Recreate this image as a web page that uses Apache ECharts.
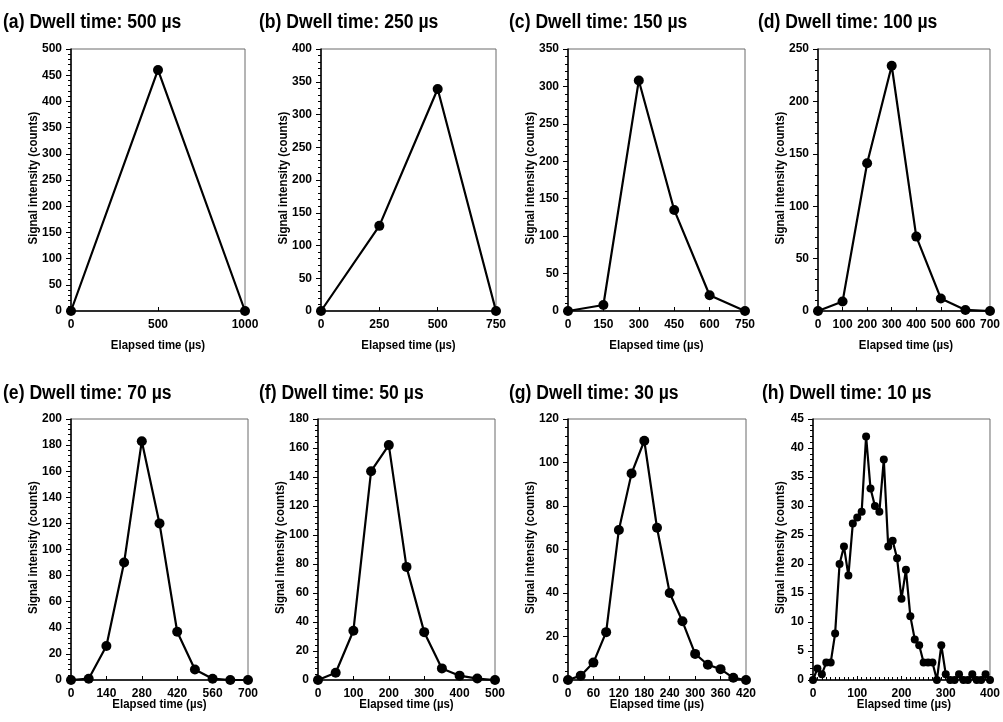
<!DOCTYPE html>
<html>
<head>
<meta charset="utf-8">
<script src="https://cdn.jsdelivr.net/npm/echarts@6/dist/echarts.min.js"></script>
<style>
  html, body { margin: 0; padding: 0; background: #fff; }
  #chart { width: 1003px; height: 722px; }
</style>
</head>
<body>
<div id="chart"></div>
<script>
// Signal intensity transients recorded at eight different dwell times
const panelTitles = [
  '(a) Dwell time: 500 µs',
  '(b) Dwell time: 250 µs',
  '(c) Dwell time: 150 µs',
  '(d) Dwell time: 100 µs',
  '(e) Dwell time: 70 µs',
  '(f) Dwell time: 50 µs',
  '(g) Dwell time: 30 µs',
  '(h) Dwell time: 10 µs'
];

const timeA = [0, 500, 1000];
const countsA = [0, 460, 0];

const timeB = [0, 250, 500, 750];
const countsB = [0, 130, 339, 0];

const timeC = [0, 150, 300, 450, 600, 750];
const countsC = [0, 8, 308, 135, 21, 0];

const timeD = [0, 100, 200, 300, 400, 500, 600, 700];
const countsD = [0, 9, 141, 234, 71, 12, 1, 0];

const timeE = [0, 70, 140, 210, 280, 350, 420, 490, 560, 630, 700];
const countsE = [0, 1, 26, 90, 183, 120, 37, 8, 1, 0, 0];

const timeF = [0, 50, 100, 150, 200, 250, 300, 350, 400, 450, 500];
const countsF = [0, 5, 34, 144, 162, 78, 33, 8, 3, 1, 0];

const timeG = [0, 30, 60, 90, 120, 150, 180, 210, 240, 270, 300, 330, 360, 390, 420];
const countsG = [0, 2, 8, 22, 69, 95, 110, 70, 40, 27, 12, 7, 5, 1, 0];

const timeH = [0, 10, 20, 30, 40, 50, 60, 70, 80, 90, 100, 110, 120, 130, 140, 150, 160,
  170, 180, 190, 200, 210, 220, 230, 240, 250, 260, 270, 280, 290, 300, 310, 320, 330,
  340, 350, 360, 370, 380, 390, 400];
const countsH = [0, 2, 1, 3, 3, 8, 20, 23, 18, 27, 28, 29, 42, 33, 30, 29, 38,
  23, 24, 21, 14, 19, 11, 7, 6, 3, 3, 3, 0, 6, 1, 0, 0, 1,
  0, 0, 1, 0, 0, 1, 0];

// axis ranges per panel
const xMaxes = [1000, 750, 750, 700, 700, 500, 420, 400];
const xSteps = [500, 250, 150, 100, 140, 100, 60, 100];
const yMaxes = [500, 400, 350, 250, 200, 180, 120, 45];
const ySteps = [50, 50, 50, 50, 20, 20, 20, 5];

const xLabel = 'Elapsed time (µs)';
const yLabel = 'Signal intensity (counts)';

const times = [timeA, timeB, timeC, timeD, timeE, timeF, timeG, timeH];
const counts = [countsA, countsB, countsC, countsD, countsE, countsF, countsG, countsH];

// layout of the 2 x 4 panel grid
const gridBoxes = [
  { left: 71, top: 49, width: 174, height: 262 },
  { left: 321, top: 49, width: 175, height: 262 },
  { left: 568, top: 49, width: 177, height: 262 },
  { left: 818, top: 49, width: 176, height: 262 },
  { left: 71, top: 419, width: 177, height: 261 },
  { left: 318, top: 419, width: 177, height: 261 },
  { left: 568, top: 419, width: 178, height: 261 },
  { left: 813, top: 419, width: 182, height: 261 }
];
const titleX = [3, 259, 509, 758, 3, 259, 509, 762];
const titleY = [22, 22, 22, 22, 393, 393, 393, 393];

const FONT = "'Liberation Sans', Arial, sans-serif";
// condensed look for headings and axis titles
const NARROW = 0.88;

const chart = echarts.init(document.getElementById('chart'), null, { renderer: 'canvas' });

const option = {
  animation: false,
  backgroundColor: '#ffffff',
  grid: [],
  xAxis: [],
  yAxis: [],
  series: [],
  graphic: { elements: [] }
};

function textEl(str, x, y, size, align, rotation) {
  return {
    type: 'text',
    x: x,
    y: y,
    rotation: rotation || 0,
    scaleX: NARROW,
    scaleY: 1,
    silent: true,
    z: 10,
    style: {
      text: str,
      x: 0,
      y: 0,
      fontFamily: FONT,
      fontSize: size,
      fontWeight: 'bold',
      fill: '#000',
      align: align,
      verticalAlign: 'middle',
      textAlign: align,
      textVerticalAlign: 'middle'
    }
  };
}

for (let i = 0; i < 8; i++) {
  const topRow = i < 4;
  const g = gridBoxes[i];

  option.graphic.elements.push(textEl(panelTitles[i], titleX[i], titleY[i], 20, 'left'));
  option.graphic.elements.push(textEl(xLabel, g.left + g.width / 2, topRow ? 345 : 704, 13, 'center'));
  option.graphic.elements.push(textEl(yLabel, g.left - (i === 7 ? 32.5 : 37.5),
    g.top + g.height / 2 - 2, 13, 'center', Math.PI / 2));

  option.grid.push(Object.assign({
    show: true,
    borderColor: '#6a6a6a',
    borderWidth: 1,
    backgroundColor: 'transparent',
    containLabel: false
  }, g));
  option.xAxis.push({
    type: 'value',
    gridIndex: i,
    min: 0,
    max: xMaxes[i],
    interval: xSteps[i],
    axisLine: { show: true, onZero: false, lineStyle: { color: '#000', width: 1.5 } },
    axisTick: { show: true, inside: true, length: 4, lineStyle: { color: '#000', width: 1 } },
    minorTick: { show: i === 7, splitNumber: 10, length: 3, lineStyle: { color: '#000', width: 1 } },
    axisLabel: {
      margin: 8, fontFamily: FONT, fontSize: 12, fontWeight: 'bold', color: '#000',
      formatter: v => String(v)
    },
    splitLine: { show: false }
  });
  option.yAxis.push({
    type: 'value',
    gridIndex: i,
    min: 0,
    max: yMaxes[i],
    interval: ySteps[i],
    axisLine: { show: true, onZero: false, lineStyle: { color: '#000', width: 1.5 } },
    axisTick: { show: true, inside: false, length: 5, lineStyle: { color: '#000', width: 1 } },
    minorTick: { show: true, splitNumber: 5, length: 3, lineStyle: { color: '#000', width: 1 } },
    axisLabel: {
      margin: 9, fontFamily: FONT, fontSize: 12, fontWeight: 'bold', color: '#000',
      formatter: v => String(v)
    },
    splitLine: { show: false }
  });
  option.series.push({
    type: 'line',
    xAxisIndex: i,
    yAxisIndex: i,
    data: times[i].map((t, k) => [t, counts[i][k]]),
    symbol: 'circle',
    symbolSize: i === 7 ? 8 : 10,
    showAllSymbol: true,
    clip: false,
    z: 5,
    lineStyle: { color: '#000', width: 2.2 },
    itemStyle: { color: '#000', borderWidth: 0 }
  });
}

chart.setOption(option);
</script>
</body>
</html>
